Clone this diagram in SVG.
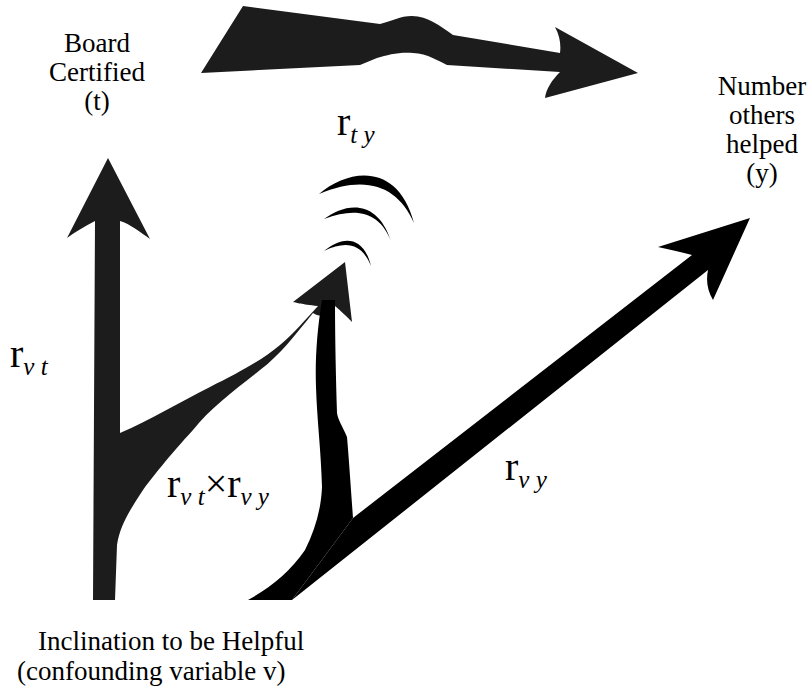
<svg xmlns="http://www.w3.org/2000/svg" width="812" height="689" viewBox="0 0 812 689">
<style>
.lbl{font-size:27px;fill:#000}
.r{font-size:40px;font-style:normal}
.sub{font-size:25px;font-style:italic}
.dk{fill:#1c1c1c}
.bk{fill:#000}
</style>
<rect width="812" height="689" fill="#fff"/>
<g id="connectors">
  <path id="arrow-t-y" class="dk" d="M201,73 L243,6 L380,24 C392,21 400,16 412,16 C428,16 440,26 453,35 L560,53 C561,45 560,36 555,27 L638,73 L545,98 C546,89 552,80 560,72 L447,65 C440,62 427,53 413,53 C398,52 388,55 377,58 L360,65 Z"/>
  <path id="arrow-v-t" class="dk" d="M108,158 L150,239 C140,232 130,224 120,221 L120,433 C150,420 180,402 210,387 C240,372 262,360 280,345 C295,332 305,320 318,306 C300,304 298,303 293,302 L345,262 L352,322 C345,315 340,310 335,306 C325,315 320,318 313,313 C295,335 280,355 260,370 C235,390 210,408 193,430 C170,455 150,480 143,490 C130,510 120,525 117,545 L115,600 L93,600 L95,221 C85,226 75,232 67,238 Z"/>
  <path id="stem-v-ty" class="bk" d="M322,300 C317,330 315,360 316,387 C317,420 321,450 322,487 C321,510 315,530 305,550 C290,572 270,588 248,600 L292,600 L353,518 C351,490 349,460 347,437 C342,425 338,420 337,413 C336,380 335,340 335,300 Z"/>
  <path id="arrow-v-y" class="bk" d="M292,600 L708,270 C706,280 707,290 713,300 L750,218 L658,247 C670,250 682,252 692,255 L353,518 Z"/>
  <g id="waves" class="bk">
    <path d="M319,194 C350,168 398,163 414,223 C398,186 366,174 319,194 Z"/>
    <path d="M324,219 C345,203 377,198 391,241 C380,213 358,206 324,219 Z"/>
    <path d="M324,251 C340,237 363,233 371,266 C362,244 347,240 324,251 Z"/>
  </g>
</g>
<g font-family="Liberation Serif, DejaVu Serif, serif">
<g id="node-t">
  <text class="lbl" x="97" y="52" text-anchor="middle">Board</text>
  <text class="lbl" x="97" y="81" text-anchor="middle">Certified</text>
  <text class="lbl" x="97" y="110" text-anchor="middle">(t)</text>
</g>
<g id="node-y">
  <text class="lbl" x="762" y="95" text-anchor="middle">Number</text>
  <text class="lbl" x="762" y="124" text-anchor="middle">others</text>
  <text class="lbl" x="762" y="153" text-anchor="middle">helped</text>
  <text class="lbl" x="762" y="182" text-anchor="middle">(y)</text>
</g>
<g id="node-v">
  <text class="lbl" x="38" y="650">Inclination to be Helpful</text>
  <text class="lbl" x="17" y="680">(confounding variable v)</text>
</g>
<g id="labels">
  <text class="lbl" x="337" y="135"><tspan class="r">r</tspan><tspan class="sub" dy="8">t y</tspan></text>
  <text class="lbl" x="10" y="367"><tspan class="r">r</tspan><tspan class="sub" dy="8">v t</tspan></text>
  <text class="lbl" x="505" y="480"><tspan class="r">r</tspan><tspan class="sub" dy="8">v y</tspan></text>
  <text class="lbl" x="167" y="497"><tspan class="r">r</tspan><tspan class="sub" dy="8">v t</tspan><tspan class="r" dy="-8">×</tspan><tspan class="r">r</tspan><tspan class="sub" dy="8">v y</tspan></text>
</g>
</g>
</svg>
